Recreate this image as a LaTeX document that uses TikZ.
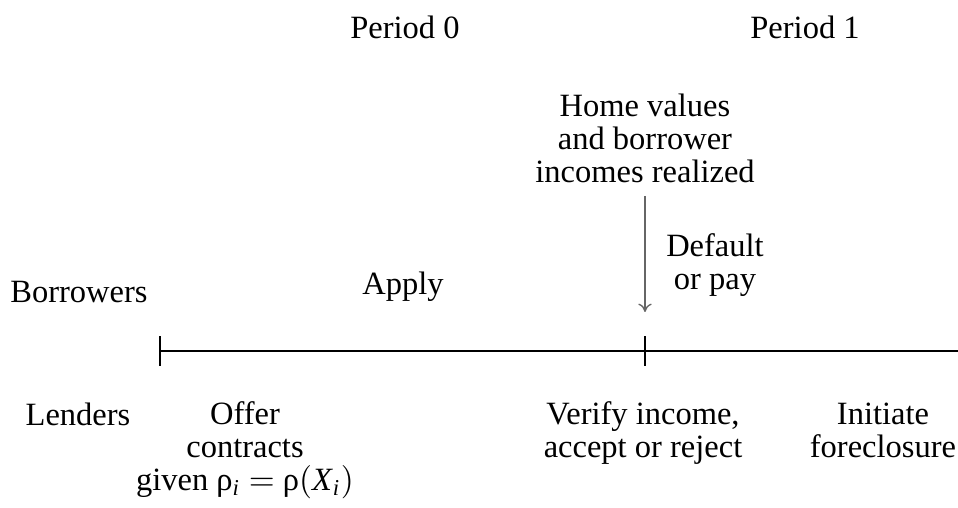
\documentclass[tikz,border=0pt]{standalone}
\usepackage{fontspec}
\setmainfont{Liberation Serif}
\usetikzlibrary{arrows.meta}
\begin{document}
\begin{tikzpicture}[x=0.3pt,y=-0.3pt,
  lbl/.style={inner sep=0pt,align=center,font=\fontsize{9.75}{9.9}\selectfont},
  axis/.style={line width=0.6pt},
  tick/.style={line width=0.4pt},
  arr/.style={line width=0.4pt,draw=black!60,-{To[length=2.5pt,width=4pt]}}]
\useasboundingbox (0,0) rectangle (958,508);
\node[lbl] (p0) at (405,27) {Period 0};
\node[lbl] (p1) at (805,27) {Period 1};
\node[lbl] (home) at (645,138) {Home values\\and borrower\\incomes realized};
\node[lbl] (def) at (715,265) {Default\\or pay};
\node[lbl] (apply) at (403,287) {Apply};
\node[lbl] (borr) at (79,292) {Borrowers};
\coordinate (t0) at (160,351);
\coordinate (t1) at (645,351);
\coordinate (tend) at (958,351);
\coordinate (atop) at (645,196);
\coordinate (atip) at (645,312);
\draw[axis] (t0) -- (tend);
\draw[tick] ([yshift=-15*0.3pt]t0) -- ([yshift=15*0.3pt]t0);
\draw[tick] ([yshift=-15*0.3pt]t1) -- ([yshift=15*0.3pt]t1);
\draw[arr] (atop) -- (atip);
\node[lbl] (lend) at (78,414) {Lenders};
\node[lbl] (offer) at (245,450) {Offer\\contracts\\given ρ\textsubscript{\textit{i}}\hspace{0.25em}$=$\hspace{0.25em}ρ$($\textit{X}\textsubscript{\textit{i}}$)$};
\node[lbl] (verify) at (643,433) {Verify income,\\accept or reject};
\node[lbl] (init) at (883,430) {Initiate\\foreclosure};
\end{tikzpicture}
\end{document}
